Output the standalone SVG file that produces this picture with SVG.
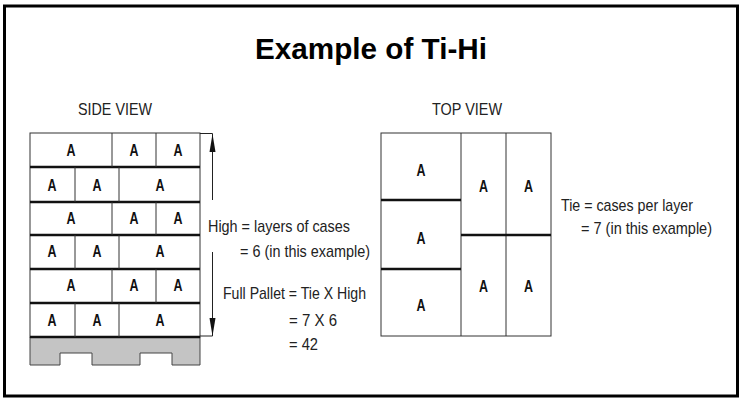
<svg xmlns="http://www.w3.org/2000/svg" width="745" height="403" viewBox="0 0 745 403">
<defs>
<style>
.lbl{font-family:"Liberation Sans",Arial,sans-serif;font-size:17px;fill:#222;}
.a{font-family:"Liberation Sans",Arial,sans-serif;font-size:17px;font-weight:bold;fill:#111;text-anchor:middle;}
.thin{stroke:#333;stroke-width:1;fill:none;}
.thick{stroke:#111;stroke-width:2.5;fill:none;}
.title{font-family:"Liberation Sans",Arial,sans-serif;font-size:29px;font-weight:bold;fill:#000;}
</style>
</defs>
<rect x="0" y="0" width="745" height="403" fill="#fff"/>
<rect x="4.5" y="6" width="733" height="390" fill="none" stroke="#000" stroke-width="3"/>
<g id="title"><text class="title" x="255" y="59" textLength="232" lengthAdjust="spacingAndGlyphs">Example of Ti-Hi</text></g>

<g id="side-view">
<text class="lbl" x="78" y="115" textLength="74" lengthAdjust="spacingAndGlyphs">SIDE VIEW</text>
<path d="M30,337 H200 V365 H172 V353 H140 V365 H92 V353 H60 V365 H30 Z" fill="#c4c4c4" stroke="#444" stroke-width="1"/>
<rect class="thin" x="30" y="133" width="170" height="204"/>
<g class="thick">
<line x1="30" y1="167" x2="200" y2="167"/>
<line x1="30" y1="202" x2="200" y2="202"/>
<line x1="30" y1="235" x2="200" y2="235"/>
<line x1="30" y1="269" x2="200" y2="269"/>
<line x1="30" y1="303" x2="200" y2="303"/>
<line x1="30" y1="337" x2="200" y2="337"/>
</g>
<g class="thin">
<line x1="112" y1="133" x2="112" y2="167"/><line x1="156" y1="133" x2="156" y2="167"/>
<line x1="75" y1="167" x2="75" y2="202"/><line x1="119" y1="167" x2="119" y2="202"/>
<line x1="112" y1="202" x2="112" y2="235"/><line x1="156" y1="202" x2="156" y2="235"/>
<line x1="75" y1="235" x2="75" y2="269"/><line x1="119" y1="235" x2="119" y2="269"/>
<line x1="112" y1="269" x2="112" y2="303"/><line x1="156" y1="269" x2="156" y2="303"/>
<line x1="75" y1="303" x2="75" y2="337"/><line x1="119" y1="303" x2="119" y2="337"/>
</g>
<g>
<text class="a" x="71" y="156" textLength="9" lengthAdjust="spacingAndGlyphs">A</text><text class="a" x="134" y="156" textLength="9" lengthAdjust="spacingAndGlyphs">A</text><text class="a" x="178" y="156" textLength="9" lengthAdjust="spacingAndGlyphs">A</text>
<text class="a" x="52" y="191" textLength="9" lengthAdjust="spacingAndGlyphs">A</text><text class="a" x="97" y="191" textLength="9" lengthAdjust="spacingAndGlyphs">A</text><text class="a" x="160" y="191" textLength="9" lengthAdjust="spacingAndGlyphs">A</text>
<text class="a" x="71" y="224" textLength="9" lengthAdjust="spacingAndGlyphs">A</text><text class="a" x="134" y="224" textLength="9" lengthAdjust="spacingAndGlyphs">A</text><text class="a" x="178" y="224" textLength="9" lengthAdjust="spacingAndGlyphs">A</text>
<text class="a" x="52" y="257" textLength="9" lengthAdjust="spacingAndGlyphs">A</text><text class="a" x="97" y="257" textLength="9" lengthAdjust="spacingAndGlyphs">A</text><text class="a" x="160" y="257" textLength="9" lengthAdjust="spacingAndGlyphs">A</text>
<text class="a" x="71" y="291" textLength="9" lengthAdjust="spacingAndGlyphs">A</text><text class="a" x="134" y="291" textLength="9" lengthAdjust="spacingAndGlyphs">A</text><text class="a" x="178" y="291" textLength="9" lengthAdjust="spacingAndGlyphs">A</text>
<text class="a" x="52" y="326" textLength="9" lengthAdjust="spacingAndGlyphs">A</text><text class="a" x="97" y="326" textLength="9" lengthAdjust="spacingAndGlyphs">A</text><text class="a" x="160" y="326" textLength="9" lengthAdjust="spacingAndGlyphs">A</text>
</g>
</g>

<g id="connectors">
<path d="M200,133.5 H212.5 V200 M212.5,252 V336 H200" fill="none" stroke="#222" stroke-width="1"/>
<polygon points="212.5,134 209.5,152 215.5,152" fill="#111"/>
<polygon points="212.5,336 209.5,318 215.5,318" fill="#111"/>
</g>

<g id="high-label">
<text class="lbl" x="208" y="232" textLength="142" lengthAdjust="spacingAndGlyphs">High = layers of cases</text>
<text class="lbl" x="240" y="257" textLength="130" lengthAdjust="spacingAndGlyphs">= 6 (in this example)</text>
</g>
<g id="full-pallet-label">
<text class="lbl" x="223" y="299" textLength="143" lengthAdjust="spacingAndGlyphs">Full Pallet = Tie X High</text>
<text class="lbl" x="289" y="326" textLength="48" lengthAdjust="spacingAndGlyphs">= 7 X 6</text>
<text class="lbl" x="289" y="350" textLength="29" lengthAdjust="spacingAndGlyphs">= 42</text>
</g>

<g id="top-view">
<text class="lbl" x="432" y="115" textLength="70" lengthAdjust="spacingAndGlyphs">TOP VIEW</text>
<rect class="thin" x="381" y="133" width="170" height="203"/>
<g class="thin">
<line x1="461" y1="133" x2="461" y2="336"/>
<line x1="506" y1="133" x2="506" y2="336"/>
</g>
<g class="thick">
<line x1="381" y1="200" x2="461" y2="200"/>
<line x1="381" y1="269" x2="461" y2="269"/>
<line x1="461" y1="235" x2="551" y2="235"/>
</g>
<text class="a" x="421" y="176" textLength="9" lengthAdjust="spacingAndGlyphs">A</text>
<text class="a" x="421" y="244" textLength="9" lengthAdjust="spacingAndGlyphs">A</text>
<text class="a" x="421" y="311" textLength="9" lengthAdjust="spacingAndGlyphs">A</text>
<text class="a" x="483.5" y="192" textLength="9" lengthAdjust="spacingAndGlyphs">A</text>
<text class="a" x="528.5" y="192" textLength="9" lengthAdjust="spacingAndGlyphs">A</text>
<text class="a" x="483.5" y="292" textLength="9" lengthAdjust="spacingAndGlyphs">A</text>
<text class="a" x="528.5" y="292" textLength="9" lengthAdjust="spacingAndGlyphs">A</text>
</g>
<g id="tie-label">
<text class="lbl" x="561" y="211" textLength="132" lengthAdjust="spacingAndGlyphs">Tie = cases per layer</text>
<text class="lbl" x="581" y="234" textLength="131" lengthAdjust="spacingAndGlyphs">= 7 (in this example)</text>
</g>
</svg>
